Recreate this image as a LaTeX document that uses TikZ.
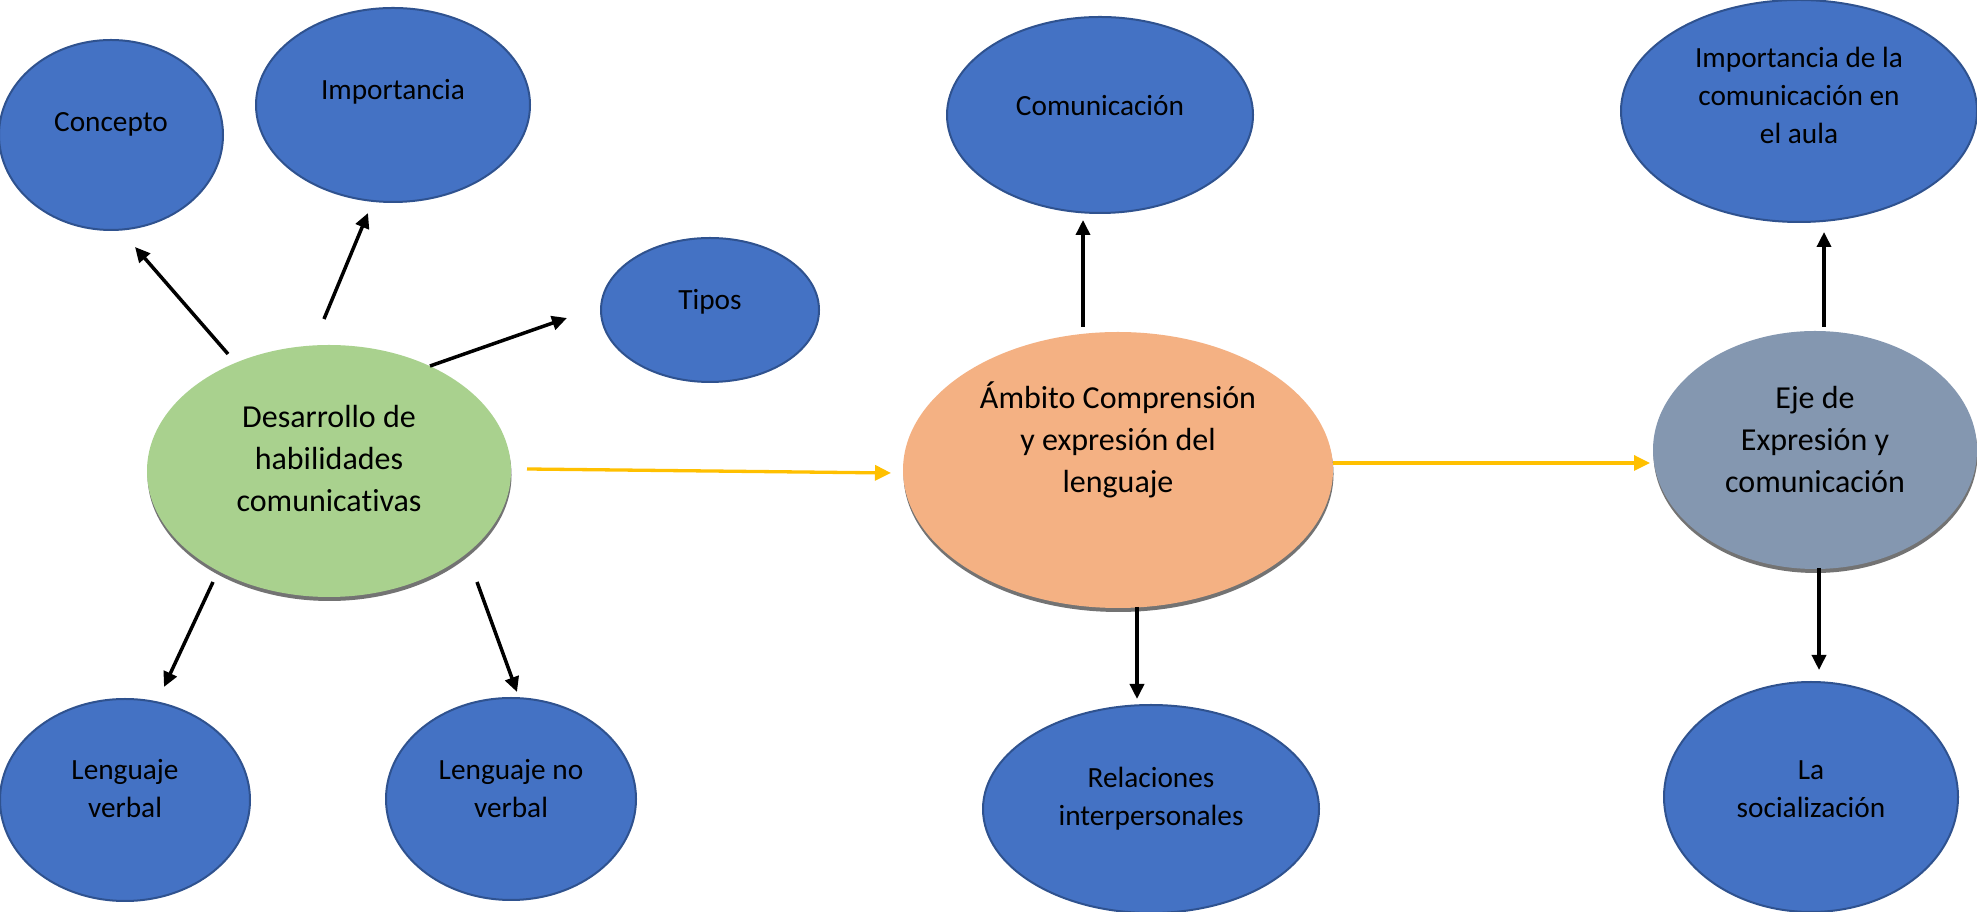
\documentclass[tikz,border=0pt]{standalone}
\usepackage{fontspec}
\setmainfont{Carlito}[Ligatures=NoCommon]
\usetikzlibrary{shapes.geometric,arrows.meta,shadows}
\definecolor{nodeblue}{HTML}{4472C4}
\definecolor{borderblue}{HTML}{2F528F}
\definecolor{nodegreen}{HTML}{A9D18E}
\definecolor{nodeorange}{HTML}{F4B183}
\definecolor{nodegray}{HTML}{8497B0}
\definecolor{arrowyellow}{HTML}{FFC000}
\begin{document}
\begin{tikzpicture}[x=1pt,y=1pt,
  ell/.style={ellipse, inner sep=0pt, minimum width=#1},
  blueE/.style={ell=#1, fill=nodeblue, draw=borderblue, line width=2pt},
  mainE/.style={ell=#1, draw=none, drop shadow={shadow xshift=0.5pt, shadow yshift=-4pt, fill=black!55, opacity=1}},
  txtB/.style={align=center, font=\fontsize{29.3pt}{38pt}\selectfont, inner sep=0pt},
  txtM/.style={align=center, font=\fontsize{32pt}{42pt}\selectfont, inner sep=0pt},
  arr/.style={line width=3.5pt, -{Triangle[length=15pt,width=14pt]}},
  yarr/.style={line width=3.3pt, arrowyellow, -{Triangle[length=16pt,width=15pt]}}
]
\useasboundingbox (0,0) rectangle (1977,912);
\fill[white] (0,0) rectangle (1977,912);

% central nodes
\node[mainE=364pt, minimum height=252pt, fill=nodegreen,
  label={[txtM, yshift=12pt]center:Desarrollo de\\habilidades\\comunicativas}] (des) at (329,441) {};
\node[mainE=430pt, minimum height=276pt, fill=nodeorange,
  label={[txtM, yshift=30pt]center:Ámbito Comprensión\\y expresión del\\lenguaje}] (amb) at (1118,442) {};
\node[mainE=324pt, minimum height=238pt, fill=nodegray,
  label={[txtM, yshift=10pt]center:Eje de\\Expresión y\\comunicación}] (eje) at (1815,462) {};

% blue nodes
\node[blueE=224pt, minimum height=190pt,
  label={[txtB, yshift=11pt]center:Concepto}] (con) at (111,777) {};
\node[blueE=274pt, minimum height=194pt,
  label={[txtB, yshift=13pt]center:Importancia}] (imp) at (393,807) {};
\node[blueE=218pt, minimum height=144pt,
  label={[txtB, yshift=8pt]center:Tipos}] (tip) at (710,602) {};
\node[blueE=250pt, minimum height=202pt,
  label={[txtB, yshift=11pt]center:Lenguaje\\verbal}] (lv) at (125,112) {};
\node[blueE=250pt, minimum height=202pt,
  label={[txtB, yshift=10pt]center:Lenguaje no\\verbal}] (lnv) at (511,113) {};
\node[blueE=306pt, minimum height=196pt,
  label={[txtB, yshift=9pt]center:Comunicación}] (com) at (1100,797) {};
\node[blueE=336pt, minimum height=208pt,
  label={[txtB, yshift=10pt]center:Relaciones\\interpersonales}] (rel) at (1151,103) {};
\node[blueE=356pt, minimum height=222pt,
  label={[txtB, yshift=16pt]center:Importancia de la\\comunicación en\\el aula}] (impc) at (1799,801) {};
\node[blueE=294pt, minimum height=230pt,
  label={[txtB, yshift=8pt]center:La\\socialización}] (soc) at (1811,115) {};

% connectors
\draw[arr] ([shift={(-101,117)}]des.center) -- ([shift={(24,-112)}]con.center);
\draw[arr] ([shift={(-5,152)}]des.center) -- ([shift={(-25,-108)}]imp.center);
\draw[arr] ([shift={(101,105)}]des.center) -- ([shift={(-143,-8)}]tip.center);
\draw[arr] ([shift={(-116,-111)}]des.center) -- ([shift={(39,113)}]lv.center);
\draw[arr] ([shift={(148,-111)}]des.center) -- ([shift={(6,107)}]lnv.center);
\draw[yarr] ([shift={(198,2)}]des.center) -- ([shift={(-227,-3)}]amb.center);
\draw[arr] ([shift={(-35,143)}]amb.center) -- ([shift={(-17,-105)}]com.center);
\draw[arr] ([shift={(19,-137)}]amb.center) -- ([shift={(-14,110)}]rel.center);
\draw[yarr] ([shift={(215,7)}]amb.center) -- ([shift={(-165,-13)}]eje.center);
\draw[arr] ([shift={(9,123)}]eje.center) -- ([shift={(25,-121)}]impc.center);
\draw[arr] ([shift={(4,-118)}]eje.center) -- ([shift={(8,127)}]soc.center);
\end{tikzpicture}
\end{document}
